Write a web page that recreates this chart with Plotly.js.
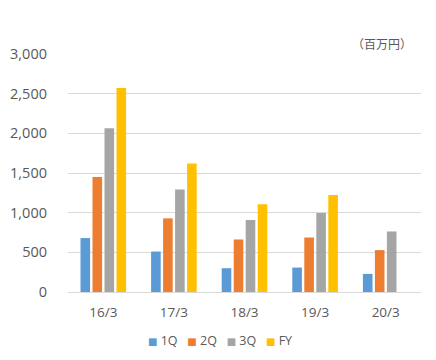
<!DOCTYPE html>
<html><head><meta charset="utf-8">
<script src="https://cdn.plot.ly/plotly-3.0.1.min.js"></script>
<style>html,body{margin:0;padding:0;background:#fff}#chart{width:436px;height:360px}</style>
</head><body><div id="chart"></div>
<script>
const categories = ["16/3", "17/3", "18/3", "19/3", "20/3"];
const seriesNames = ["1Q", "2Q", "3Q", "FY"];
const q1 = [680, 510, 300, 308, 228];
const q2 = [1450, 928, 662, 687, 528];
const q3 = [2063, 1291, 908, 996, 763];
const fy = [2570, 1620, 1105, 1224, null];
const yTicks = [0, 500, 1000, 1500, 2000, 2500, 3000];
const unitLabel = "（百万円）";
const colors = ["#5B9BD5", "#ED7D31", "#A5A5A5", "#FFC000"];
const values = [q1, q2, q3, fy];

const font = "'Open Sans', 'DejaVu Sans', sans-serif";
const traces = values.map((v, i) => ({
  type: "bar", name: seriesNames[i], x: categories, y: v,
  marker: {color: colors[i]}, showlegend: false, hoverinfo: "x+y+name"
}));

// compact legend drawn as one annotation row, built from the series names
const legendText = seriesNames.map((n, i) =>
  '<span style="color:' + colors[i] + ';font-size:10px">■</span>&nbsp;' + n
).join('&nbsp;&nbsp;&nbsp;');
const annotations = [{
  xref: "paper", yref: "paper", xanchor: "center", yanchor: "middle",
  x: (220 - 68) / 353, y: -(340.5 - 292) / 238,
  text: legendText, showarrow: false,
  font: {family: font, size: 12.5, color: "#595959"}
}, {
  xref: "paper", yref: "paper", xanchor: "right", yanchor: "middle",
  x: (414 - 68) / 353, y: (292 - 44) / 238, text: unitLabel, showarrow: false,
  font: {family: "'Noto Sans CJK JP', sans-serif", size: 12, color: "#595959"}
}];

const layout = {
  width: 436, height: 360,
  margin: {l: 68, r: 15, t: 54, b: 68, pad: 0},
  paper_bgcolor: "#fff", plot_bgcolor: "#fff",
  barmode: "group", bargap: 0.32, bargroupgap: 0.2,
  font: {family: font, color: "#595959"},
  xaxis: {
    type: "category", showgrid: false, showline: true, linecolor: "#d9d9d9", linewidth: 1,
    ticks: "", tickfont: {size: 13.5, color: "#595959"}, ticklabelstandoff: 8, fixedrange: true
  },
  yaxis: {
    range: [0, 3000], tickvals: yTicks, tickformat: ",d", showgrid: true,
    gridcolor: "#d9d9d9", gridwidth: 1, zeroline: false, showline: false, ticks: "",
    tickfont: {size: 14.5, color: "#595959"}, ticklabelstandoff: 20, fixedrange: true
  },
  annotations: annotations,
  showlegend: false
};
Plotly.newPlot("chart", traces, layout, {displayModeBar: false, staticPlot: true});
</script></body></html>
